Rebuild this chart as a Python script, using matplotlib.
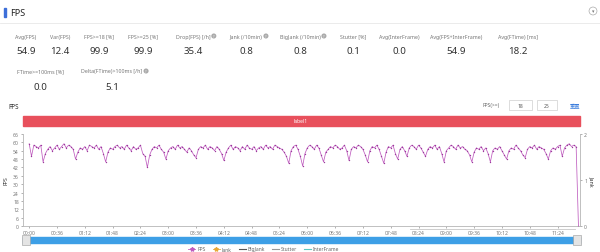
import matplotlib
matplotlib.use('Agg')
import matplotlib.pyplot as plt
import numpy as np
from matplotlib.patches import Rectangle
from matplotlib.lines import Line2D

plt.rcParams['font.family'] = ['Noto Sans', 'Noto Sans CJK SC', 'DejaVu Sans']

# ---- data ----
metric_labels = ['Avg(FPS)', 'Var(FPS)', 'FPS>=18 [%]', 'FPS>=25 [%]', 'Drop(FPS) [/h]',
                 'Jank (/10min)', 'BigJank (/10min)', 'Stutter [%]', 'Avg(InterFrame)',
                 'Avg(FPS+InterFrame)', 'Avg(FTime) [ms]']
metric_values = ['54.9', '12.4', '99.9', '99.9', '35.4', '0.8', '0.8', '0.1', '0.0', '54.9', '18.2']
metric_help = [False, False, False, False, True, True, True, False, False, False, False]

metric2_labels = ['FTime>=100ms [%]', 'Delta(FTime)>100ms [/h]']
metric2_values = ['0.0', '5.1']
metric2_help = [False, True]

# one sample every 3 s
fps = [59, 50, 58, 57, 56, 58, 46, 52, 55, 57, 54, 56, 58, 55, 57, 59, 56, 58, 57, 55,
       48, 53, 56, 55, 57, 54, 58, 57, 56, 58, 55, 57, 52, 46, 53, 56, 55, 57, 58, 56,
       57, 55, 58, 56, 54, 57, 55, 56, 58, 52, 50, 42, 51, 55, 57, 56, 58, 55, 53, 48,
       54, 56, 57, 55, 58, 56, 57, 55, 53, 56, 54, 51, 49, 55, 57, 56, 58, 55, 57, 56,
       54, 57, 55, 52, 47, 53, 56, 58, 55, 57, 56, 54, 57, 55, 58, 56, 55, 57, 54, 56,
       57, 55, 58, 56, 57, 55, 58, 57, 56, 55, 53, 50, 45, 54, 57, 58, 55, 50, 43, 52,
       56, 58, 57, 55, 58, 56, 51, 46, 53, 55, 57, 56, 58, 57, 55, 56, 58, 54, 47, 55,
       57, 56, 58, 57, 55, 51, 46, 54, 57, 56, 58, 55, 50, 45, 53, 57, 56, 58, 52, 48,
       55, 57, 54, 50, 56, 58, 57, 55, 58, 56, 53, 50, 55, 57, 56, 58, 55, 57, 52, 46,
       54, 56, 58, 57, 55, 58, 56, 57, 55, 54, 51, 46, 53, 56, 55, 57, 54, 56, 52, 46,
       54, 56, 55, 57, 54, 51, 48, 54, 56, 55, 58, 56, 54, 51, 49, 55, 57, 56, 58, 55,
       57, 56, 55, 52, 48, 54, 56, 55, 57, 58, 50, 56, 58, 59, 57, 58, 57, 0]
sample_step = 3
jank = [0] * len(fps)

tick_labels = ['00:00', '00:36', '01:12', '01:48', '02:24', '03:00', '03:36', '04:12',
               '04:48', '05:24', '06:00', '06:36', '07:12', '07:48', '08:24', '09:00',
               '09:36', '10:12', '10:48', '11:24']
legend_names = ['FPS', 'Jank', 'BigJank', 'Stutter', 'InterFrame']

W, H = 600, 253


def fx(x):
    return x / W


def fy(y):
    return 1 - y / H


fig = plt.figure(figsize=(6, 2.53), dpi=100)
fig.patch.set_facecolor('white')

# header
fig.add_artist(Rectangle((fx(4), fy(18)), 2 / W, 9 / H, color='#3d6fd9', transform=fig.transFigure))
fig.text(fx(10), fy(13), 'FPS', fontsize=6.5, fontweight='bold', va='center', color='#222')
fig.add_artist(Line2D([0, 1], [fy(24), fy(24)], color='#e8e8e8', lw=0.6, transform=fig.transFigure))
fig.text(fx(593), fy(12), '\u25be', fontsize=3.5, ha='center', va='center', color='#777',
         family='DejaVu Sans',
         bbox=dict(boxstyle='circle,pad=0.3', fc='white', ec='#aaa', lw=0.5))

# metric cards
centers1 = [26, 60, 99, 143, 193, 246, 300, 353, 399, 456, 518]
centers2 = [40, 112]
fig.canvas.draw()
renderer = fig.canvas.get_renderer()


def metric(cx, ly, vy, label, value, helpicon):
    t = fig.text(fx(cx), fy(ly), label, fontsize=3.8, color='#777', ha='center', va='center')
    fig.text(fx(cx), fy(vy), value, fontsize=7, fontweight='bold', color='#333', ha='center', va='center')
    if helpicon:
        bb = t.get_window_extent(renderer)
        fig.text(fx(bb.x1 + 3.5), fy(ly), '?', fontsize=2.6, color='white', ha='center', va='center',
                 bbox=dict(boxstyle='circle,pad=0.15', fc='#aaa', ec='none'))


for cx, lab, val, hp in zip(centers1, metric_labels, metric_values, metric_help):
    metric(cx, 37, 52, lab, val, hp)
for cx, lab, val, hp in zip(centers2, metric2_labels, metric2_values, metric2_help):
    metric(cx, 72, 88, lab, val, hp)

# chart header
fig.text(fx(8), fy(108), 'FPS', fontsize=4.5, fontweight='bold', va='center', color='#222')
fig.text(fx(500), fy(106), 'FPS(>=)', fontsize=3.6, color='#666', ha='right', va='center')
for x0, w, txt in [(509, 23, '18'), (537, 20, '25')]:
    fig.add_artist(Rectangle((fx(x0), fy(111)), w / W, 10 / H, fill=False, ec='#cfcfcf', lw=0.5,
                             transform=fig.transFigure))
    fig.text(fx(x0 + w / 2), fy(106), txt, fontsize=3.6, color='#555', ha='center', va='center')
fig.text(fx(575), fy(106), '重置', fontsize=3.8, color='#3b7ddd', ha='center', va='center',
         family=['Noto Sans CJK SC', 'DejaVu Sans'])

# red label bar
fig.add_artist(Rectangle((fx(23), fy(127)), 557 / W, 10 / H, color='#e8505c', transform=fig.transFigure))
fig.text(fx(301), fy(122), 'label1', fontsize=3.6, color='white', ha='center', va='center')

# main plot
times = np.arange(len(fps)) * sample_step
ax = fig.add_axes([fx(23), fy(227), 557 / W, 92 / H])
ax.plot(times, fps, color='#bf5cbf', lw=0.55, marker='o', markersize=1.0,
        markerfacecolor='#9b3a9b', markeredgewidth=0, zorder=3)
ax.set_xlim(-8, 713)
ax.set_ylim(0, 66)
ax.set_yticks(range(0, 67, 6))
ax.set_xticks(np.arange(len(tick_labels)) * 36)
ax.set_xticklabels(tick_labels)
ax.tick_params(labelsize=3.6, colors='#777', length=1.5, width=0.4, pad=1.5)
for s in ['left', 'bottom', 'right']:
    ax.spines[s].set_color('#bbbbbb')
    ax.spines[s].set_linewidth(0.5)
ax.spines['top'].set_visible(False)
ax.set_ylabel('FPS', fontsize=3.8, fontweight='bold', color='#333', labelpad=3)

ax2 = ax.twinx()
ax2.set_ylim(0, 2)
ax2.set_yticks([0, 1, 2])
ax2.tick_params(labelsize=3.6, colors='#777', length=1.5, width=0.4, pad=1.5)
for s in ['left', 'bottom', 'right']:
    ax2.spines[s].set_color('#bbbbbb')
    ax2.spines[s].set_linewidth(0.5)
ax2.spines['top'].set_visible(False)
ax2.set_ylabel('Jank', fontsize=3.8, fontweight='bold', color='#333', rotation=-90, labelpad=5)
ax2.plot(times, jank, color='#5cc8c0', lw=0.6)
ax2.plot(times, jank, color='#e8a838', lw=0.6, alpha=0.7)

# faint gray strip across the right-hand tick labels, as in the screenshot
fig.add_artist(Line2D([fx(410), fx(575)], [fy(230), fy(230)], color='#c8c8c8', lw=0.6,
                      transform=fig.transFigure))

# slider
fig.add_artist(Rectangle((fx(23), fy(244)), 557 / W, 6 / H, color='#3d9fe6', transform=fig.transFigure))
for x0 in [22, 573]:
    fig.add_artist(Rectangle((fx(x0), fy(246)), 8 / W, 10 / H, fc='#e4e4e4', ec='#999', lw=0.4,
                             transform=fig.transFigure))

# legend
handles = [Line2D([], [], color='#bf5cbf', lw=0.6, marker='*', markersize=3),
           Line2D([], [], color='#e8a838', lw=0.6, marker='*', markersize=3),
           Line2D([], [], color='#555555', lw=0.8),
           Line2D([], [], color='#999999', lw=0.8),
           Line2D([], [], color='#5cc8c0', lw=0.8)]
fig.legend(handles, legend_names, loc='center', bbox_to_anchor=(fx(264), fy(250)), ncol=5,
           fontsize=3.6, frameon=False, handlelength=1.4, columnspacing=1.4, handletextpad=0.4,
           labelcolor='#666')

fig.savefig('out.png', dpi=100, facecolor='white')
